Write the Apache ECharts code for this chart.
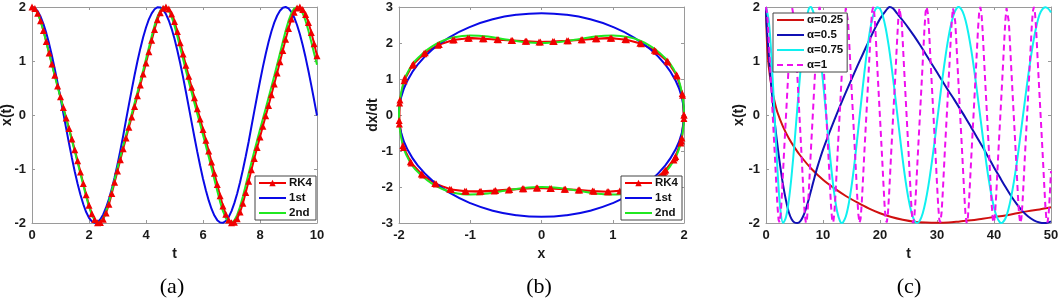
<!DOCTYPE html>
<html><head><meta charset="utf-8">
<script src="https://cdn.jsdelivr.net/npm/echarts@6/dist/echarts.min.js"></script>
<style>html,body{margin:0;padding:0;background:#fff}#c{width:1059px;height:304px}</style>
</head><body><div id="c"></div>
<script>
// ---------- Panel (a): x(t), t = 0..10 step 0.1 ----------
const tA = Array.from({length:101}, (_, i) => +(i * 0.1).toFixed(1));
const rk4X = [2.000,1.971,1.884,1.746,1.566,1.360,1.150,0.943,0.737,0.536,0.337,0.138,-0.054,-0.248,-0.446,-0.644,-0.849,-1.056,-1.267,-1.476,-1.669,-1.827,-1.937,-1.995,-1.991,-1.929,-1.813,-1.651,-1.456,-1.246,-1.037,-0.828,-0.624,-0.426,-0.228,-0.035,0.158,0.356,0.556,0.757,0.964,1.172,1.382,1.585,1.762,1.894,1.975,2.000,1.964,1.872,1.730,1.546,1.339,1.130,0.922,0.716,0.516,0.318,0.118,-0.073,-0.268,-0.466,-0.665,-0.870,-1.077,-1.288,-1.497,-1.687,-1.840,-1.945,-1.997,-1.987,-1.919,-1.798,-1.632,-1.435,-1.225,-1.014,-0.807,-0.604,-0.406,-0.208,-0.016,0.178,0.376,0.574,0.778,0.985,1.193,1.403,1.604,1.776,1.905,1.980,1.999,1.956,1.859,1.712,1.527,1.318,1.098];
const firstX = [2.000,1.980,1.921,1.823,1.688,1.520,1.322,1.097,0.850,0.587,0.312,0.030,-0.252,-0.529,-0.795,-1.045,-1.273,-1.478,-1.653,-1.797,-1.903,-1.971,-1.998,-1.985,-1.932,-1.842,-1.713,-1.557,-1.368,-1.154,-0.914,-0.657,-0.385,-0.091,0.192,0.470,0.740,0.994,1.229,1.439,1.621,1.770,1.883,1.959,1.996,1.993,1.951,1.869,1.750,1.596,1.411,1.196,0.958,0.702,0.431,0.151,-0.131,-0.411,-0.683,-0.941,-1.180,-1.394,-1.582,-1.740,-1.862,-1.947,-1.992,-1.997,-1.963,-1.890,-1.779,-1.632,-1.453,-1.246,-1.014,-0.765,-0.501,-0.212,0.071,0.352,0.626,0.887,1.131,1.352,1.547,1.710,1.838,1.931,1.985,2.000,1.974,1.909,1.806,1.667,1.494,1.292,1.063,0.815,0.548,0.272,-0.010];
const secondX = [2.000,1.970,1.882,1.742,1.560,1.352,1.140,0.930,0.722,0.520,0.320,0.120,-0.073,-0.270,-0.470,-0.671,-0.878,-1.088,-1.299,-1.509,-1.699,-1.850,-1.952,-1.998,-1.982,-1.908,-1.780,-1.608,-1.405,-1.193,-0.983,-0.774,-0.570,-0.370,-0.170,0.025,0.220,0.420,0.620,0.826,1.035,1.246,1.458,1.655,1.818,1.933,1.993,1.993,1.933,1.818,1.655,1.458,1.246,1.035,0.826,0.620,0.420,0.220,0.025,-0.170,-0.370,-0.570,-0.774,-0.983,-1.193,-1.405,-1.608,-1.780,-1.908,-1.982,-1.998,-1.952,-1.850,-1.699,-1.509,-1.299,-1.088,-0.878,-0.671,-0.470,-0.270,-0.073,0.120,0.320,0.520,0.722,0.930,1.140,1.352,1.560,1.742,1.882,1.970,2.000,1.970,1.882,1.742,1.560,1.352,1.140,0.930];

// ---------- Panel (b): phase portrait ----------
const rk4V = [0,-0.64,-1.15,-1.53,-1.82,-2.01,-2.10,-2.13,-2.12,-2.08,-2.06,-2.04,-2.03,-2.05,-2.07,-2.10,-2.12,-2.12,-2.07,-1.92,-1.67,-1.33,-0.90,-0.25,0.33,0.95,1.38,1.70,1.94,2.08,2.13,2.12,2.10,2.07,2.05,2.03,2.04,2.06,2.09,2.12,2.13,2.10,1.99,1.80,1.50,1.12,0.60,0.0,-0.72,-1.19,-1.56,-1.85,-2.02,-2.10,-2.13,-2.11,-2.08,-2.06,-2.04,-2.03,-2.05,-2.08,-2.11,-2.13,-2.12,-2.06,-1.90,-1.64,-1.30,-0.85,-0.15,0.42,1.03,1.42,1.73,1.96,2.09,2.13,2.12,2.09,2.07,2.05,2.03,2.04,2.06,2.09,2.12,2.13,2.09,1.98,1.77,1.47,1.08,0.55,-0.10,-0.78,-1.25,-1.60,-1.87,-2.04,-2.11];
const ellX = [2.000,1.970,1.879,1.732,1.532,1.286,1.000,0.684,0.347,0.000,-0.347,-0.684,-1.000,-1.286,-1.532,-1.732,-1.879,-1.970,-2.000,-1.970,-1.879,-1.732,-1.532,-1.286,-1.000,-0.684,-0.347,0.000,0.347,0.684,1.000,1.286,1.532,1.732,1.879,1.970,2.000];
const ellY = [0.000,0.491,0.967,1.414,1.818,2.166,2.449,2.658,2.785,2.828,2.785,2.658,2.449,2.166,1.818,1.414,0.967,0.491,0.000,-0.491,-0.967,-1.414,-1.818,-2.166,-2.449,-2.658,-2.785,-2.828,-2.785,-2.658,-2.449,-2.166,-1.818,-1.414,-0.967,-0.491,0.000];
const secPX = [2,1.995,1.98,1.95,1.9,1.8,1.7,1.6,1.5,1.4,1.25,1.0,0.75,0.5,0.25,0,-0.25,-0.5,-0.75,-1.0,-1.25,-1.4,-1.5,-1.6,-1.7,-1.8,-1.9,-1.95,-1.98,-1.995,-2,-1.995,-1.98,-1.95,-1.9,-1.8,-1.7,-1.6,-1.5,-1.4,-1.25,-1.0,-0.75,-0.5,-0.25,0,0.25,0.5,0.75,1.0,1.25,1.4,1.5,1.6,1.7,1.8,1.9,1.95,1.98,1.995,2];
const secPY = [0,-0.25,-0.5,-0.8,-1.1,-1.44,-1.65,-1.82,-1.95,-2.05,-2.15,-2.21,-2.18,-2.10,-2.03,-2.00,-2.03,-2.10,-2.18,-2.21,-2.15,-2.05,-1.95,-1.82,-1.65,-1.44,-1.1,-0.8,-0.5,-0.25,0,0.25,0.5,0.8,1.1,1.44,1.65,1.82,1.95,2.05,2.15,2.21,2.18,2.10,2.03,2.00,2.03,2.10,2.18,2.21,2.15,2.05,1.95,1.82,1.65,1.44,1.1,0.8,0.5,0.25,0];

// ---------- Panel (c): fractional orders ----------
const tC025 = [0,0.1,0.25,0.5,1,1.5,2,3,4,5,6,8,10,12,14,16,18,20,22,24,26,28,30,32,34,36,38,40,42,44,46,48,50];
const xC025 = [2,1.55,1.2,0.88,0.5,0.25,0.05,-0.22,-0.43,-0.6,-0.75,-1.0,-1.2,-1.36,-1.5,-1.62,-1.73,-1.82,-1.89,-1.94,-1.975,-1.99,-1.995,-1.99,-1.97,-1.95,-1.92,-1.89,-1.86,-1.82,-1.78,-1.75,-1.71];
const tC05 = [0,0.1,0.25,0.5,1,1.5,2,2.5,3,3.5,4,4.5,5,5.5,6,6.5,7,7.5,8,8.5,9,9.5,10,11,12,13,14,15,16,17,18,19,20,21,21.7,22.3,23,24,25,26,27,28,29,30,31,32,33,34,35,36,37,38,39,40,41,42,43,44,45,46,47,48,48.8,49.5,50];
const xC05 = [2,1.7,1.45,1.1,0.45,-0.1,-0.55,-0.95,-1.3,-1.58,-1.8,-1.93,-1.99,-2,-1.97,-1.88,-1.74,-1.56,-1.36,-1.16,-0.97,-0.80,-0.64,-0.36,-0.09,0.17,0.42,0.66,0.90,1.13,1.36,1.58,1.78,1.93,2,1.97,1.88,1.75,1.61,1.46,1.3,1.13,0.96,0.79,0.62,0.45,0.29,0.12,-0.05,-0.23,-0.41,-0.59,-0.78,-0.97,-1.15,-1.33,-1.5,-1.65,-1.78,-1.88,-1.95,-1.99,-2,-1.99,-1.97];
const tC075 = [0,0.5,1,1.5,2,2.5,3,3.5,4,4.5,5,5.5,6,6.5,7,7.5,7.8,8,8.5,9,9.5,10,10.5,11,11.5,12,12.5,13,13.3,13.5,14,14.5,15,15.5,16,16.5,17,17.5,18,18.5,19,19.5,19.6,20,20.5,21,21.5,22,22.5,23,23.5,24,24.5,25,25.5,26,26.5,27,27.5,28,28.5,29,29.5,30,30.5,31,31.5,32,32.5,33,33.5,33.8,34,34.5,35,35.5,36,36.5,37,37.5,38,38.5,39,39.5,40,40.5,41,41.3,41.5,42,42.5,43,43.5,44,44.5,45,45.5,46,46.5,47,47.5,48,48.5,49,49.5,50];
const xC075 = [2,1.732,1.0,0,-1.0,-1.732,-2,-1.894,-1.587,-1.111,-0.518,0.131,0.765,1.317,1.732,1.962,2,1.987,1.842,1.548,1.130,0.618,0.057,-0.508,-1.033,-1.475,-1.796,-1.971,-2,-1.990,-1.879,-1.652,-1.323,-0.913,-0.445,0.050,0.541,1.000,1.397,1.707,1.911,1.998,2,1.967,1.834,1.607,1.297,0.920,0.496,0.046,-0.407,-0.839,-1.228,-1.552,-1.796,-1.948,-2,-1.954,-1.818,-1.597,-1.304,-0.948,-0.552,-0.129,0.300,0.715,1.096,1.429,1.696,1.883,1.983,2,1.993,1.915,1.753,1.514,1.209,0.851,0.457,0.042,-0.375,-0.776,-1.143,-1.458,-1.711,-1.889,-1.984,-2,-1.993,-1.917,-1.759,-1.526,-1.229,-0.881,-0.491,-0.082,0.329,0.727,1.093,1.414,1.672,1.862,1.960,1.995,1.970,1.900];
const tC1 = Array.from({length:251}, (_, i) => +(i * 0.2).toFixed(1));
const xC1 = [
2.00,1.88,1.57,1.15,0.74,0.34,-0.05,-0.45,-0.85,-1.27,-1.67,-1.94,-1.99,-1.81,-1.46,-1.04,-0.62,-0.23,0.16,0.56,0.96,1.38,1.76,1.98,1.96,1.73,1.34,0.92,0.52,0.12,-0.27,-0.67,-1.08,-1.50,-1.84,-2.00,-1.92,-1.63,-1.23,-0.81,-0.41,-0.02,0.38,0.78,1.19,1.60,1.91,
2.00,1.88,1.57,1.15,0.74,0.34,-0.05,-0.45,-0.85,-1.27,-1.67,-1.94,-1.99,-1.81,-1.46,-1.04,-0.62,-0.23,0.16,0.56,0.96,1.38,1.76,1.98,1.96,1.73,1.34,0.92,0.52,0.12,-0.27,-0.67,-1.08,-1.50,-1.84,-2.00,-1.92,-1.63,-1.23,-0.81,-0.41,-0.02,0.38,0.78,1.19,1.60,1.91,
2.00,1.88,1.57,1.15,0.74,0.34,-0.05,-0.45,-0.85,-1.27,-1.67,-1.94,-1.99,-1.81,-1.46,-1.04,-0.62,-0.23,0.16,0.56,0.96,1.38,1.76,1.98,1.96,1.73,1.34,0.92,0.52,0.12,-0.27,-0.67,-1.08,-1.50,-1.84,-2.00,-1.92,-1.63,-1.23,-0.81,-0.41,-0.02,0.38,0.78,1.19,1.60,1.91,
2.00,1.88,1.57,1.15,0.74,0.34,-0.05,-0.45,-0.85,-1.27,-1.67,-1.94,-1.99,-1.81,-1.46,-1.04,-0.62,-0.23,0.16,0.56,0.96,1.38,1.76,1.98,1.96,1.73,1.34,0.92,0.52,0.12,-0.27,-0.67,-1.08,-1.50,-1.84,-2.00,-1.92,-1.63,-1.23,-0.81,-0.41,-0.02,0.38,0.78,1.19,1.60,1.91,
2.00,1.88,1.57,1.15,0.74,0.34,-0.05,-0.45,-0.85,-1.27,-1.67,-1.94,-1.99,-1.81,-1.46,-1.04,-0.62,-0.23,0.16,0.56,0.96,1.38,1.76,1.98,1.96,1.73,1.34,0.92,0.52,0.12,-0.27,-0.67,-1.08,-1.50,-1.84,-2.00,-1.92,-1.63,-1.23,-0.81,-0.41,-0.02,0.38,0.78,1.19,1.60,1.91,
2.00,1.88,1.57,1.15,0.74,0.34,-0.05,-0.45,-0.85,-1.27,-1.67,-1.94,-1.99,-1.81,-1.46,-1.04];

const legendA = ['RK4', '1st', '2nd'];
const legendC = ['α=0.25', 'α=0.5', 'α=0.75', 'α=1'];
const captions = ['(a)', '(b)', '(c)'];

// ---------- chart ----------
const zip = (a, b) => a.map((v, i) => [v, b[i]]);
const FONT = '"Liberation Sans", Arial, sans-serif';
const AX = '#9a9a9a';
const LBL = {color:'#1a1a1a', fontFamily:FONT, fontWeight:'bold', fontSize:13, margin:6};
const NAME = {color:'#1a1a1a', fontFamily:FONT, fontWeight:'bold', fontSize:14};
const grids = [
  {left:32, top:7, width:285, height:216, containLabel:false, outerBoundsMode:'none'},
  {left:399, top:7, width:285, height:216, containLabel:false, outerBoundsMode:'none'},
  {left:766, top:7, width:285, height:216, containLabel:false, outerBoundsMode:'none'}
];
function xAxes(g, min, max, iv, name){
  return [
    {type:'value', gridIndex:g, min, max, interval:iv, position:'bottom', name, nameLocation:'middle', nameGap:24, nameMoveOverlap:false, nameTextStyle:NAME,
     axisLine:{onZero:false, lineStyle:{color:AX}}, axisTick:{inside:true, length:3, lineStyle:{color:AX}}, axisLabel:LBL, splitLine:{show:false}},
    {type:'value', gridIndex:g, min, max, interval:iv, position:'top',
     axisLine:{onZero:false, lineStyle:{color:AX}}, axisTick:{inside:true, length:3, lineStyle:{color:AX}}, axisLabel:{show:false}, splitLine:{show:false}}
  ];
}
function yAxes(g, min, max, iv, name, gap){
  return [
    {type:'value', gridIndex:g, min, max, interval:iv, position:'left', name, nameLocation:'middle', nameGap:gap, nameMoveOverlap:false, nameTextStyle:NAME,
     axisLine:{onZero:false, lineStyle:{color:AX}}, axisTick:{inside:true, length:3, lineStyle:{color:AX}}, axisLabel:LBL, splitLine:{show:false}},
    {type:'value', gridIndex:g, min, max, interval:iv, position:'right',
     axisLine:{onZero:false, lineStyle:{color:AX}}, axisTick:{inside:true, length:3, lineStyle:{color:AX}}, axisLabel:{show:false}, splitLine:{show:false}}
  ];
}
const xa = [...xAxes(0,0,10,2,'t'), ...xAxes(1,-2,2,1,'x'), ...xAxes(2,0,50,10,'t')];
const ya = [...yAxes(0,-2,2,1,'x(t)',18), ...yAxes(1,-3,3,1,'dx/dt',19), ...yAxes(2,-2,2,1,'x(t)',20)];
const RED='#f00000', BLUE='#0a0ae6', GREEN='#20e820';
const legStyle = {orient:'vertical', itemWidth:27, itemHeight:8, itemGap:3, padding:[1,4,1,3],
  borderColor:'#444', borderWidth:1, backgroundColor:'#fff', borderRadius:0,
  textStyle:{fontFamily:FONT, fontWeight:'bold', fontSize:11.5, color:'#111', padding:[0,0,0,-2]}};
const legItem = (n) => n === 'RK4' ? {name:n} : {name:n, itemStyle:{opacity:0, borderWidth:0}};
const option = {
  animation:false,
  grid:grids,
  xAxis:xa, yAxis:ya,
  legend:[
    Object.assign({data:legendA.map(legItem), left:255, top:176}, legStyle),
    Object.assign({data:legendA.map(legItem), left:621, top:176}, legStyle),
    Object.assign({data:legendC.map(legItem), left:773, top:13}, legStyle)
  ],
  graphic: captions.map((c, i) => ({type:'text', style:{text:c, x:[172,539,909][i], y:287, align:'center', verticalAlign:'middle', textAlign:'center', textVerticalAlign:'middle', fontFamily:'"Liberation Serif", "Times New Roman", serif', fontSize:22, fill:'#000'}})),
  series:[
    {name:'RK4', type:'line', xAxisIndex:0, yAxisIndex:0, data:zip(tA, rk4X), symbol:'triangle', symbolSize:7, showAllSymbol:true, itemStyle:{color:RED}, lineStyle:{color:RED, width:2}},
    {name:'1st', type:'line', xAxisIndex:0, yAxisIndex:0, data:zip(tA, firstX), showSymbol:false, symbol:'none', itemStyle:{color:BLUE}, lineStyle:{color:BLUE, width:2}},
    {name:'2nd', type:'line', xAxisIndex:0, yAxisIndex:0, data:zip(tA, secondX), showSymbol:false, symbol:'none', itemStyle:{color:GREEN}, lineStyle:{color:GREEN, width:2}},

    {name:'RK4', type:'line', xAxisIndex:2, yAxisIndex:2, data:zip(rk4X, rk4V), symbol:'triangle', symbolSize:7, showAllSymbol:true, itemStyle:{color:RED}, lineStyle:{color:RED, width:2}},
    {name:'1st', type:'line', xAxisIndex:2, yAxisIndex:2, data:zip(ellX, ellY), smooth:true, showSymbol:false, symbol:'none', itemStyle:{color:BLUE}, lineStyle:{color:BLUE, width:2}},
    {name:'2nd', type:'line', xAxisIndex:2, yAxisIndex:2, data:zip(secPX, secPY), smooth:0.4, showSymbol:false, symbol:'none', itemStyle:{color:GREEN}, lineStyle:{color:GREEN, width:2}},

    {name:'α=0.25', type:'line', xAxisIndex:4, yAxisIndex:4, data:zip(tC025, xC025), smooth:0.3, symbol:'none', itemStyle:{color:'#d01010'}, lineStyle:{color:'#d01010', width:2}},
    {name:'α=0.5', type:'line', xAxisIndex:4, yAxisIndex:4, data:zip(tC05, xC05), smooth:0.3, symbol:'none', itemStyle:{color:'#1010b4'}, lineStyle:{color:'#1010b4', width:2}},
    {name:'α=0.75', type:'line', xAxisIndex:4, yAxisIndex:4, data:zip(tC075, xC075), smooth:0.3, symbol:'none', itemStyle:{color:'#10f0f0'}, lineStyle:{color:'#10f0f0', width:2}},
    {name:'α=1', type:'line', xAxisIndex:4, yAxisIndex:4, data:zip(tC1, xC1), symbol:'none', itemStyle:{color:'#ee10ee'}, lineStyle:{color:'#ee10ee', width:2, type:[6,4]}}
  ]
};
echarts.init(document.getElementById('c'), null, {renderer:'canvas'}).setOption(option);
</script></body></html>
